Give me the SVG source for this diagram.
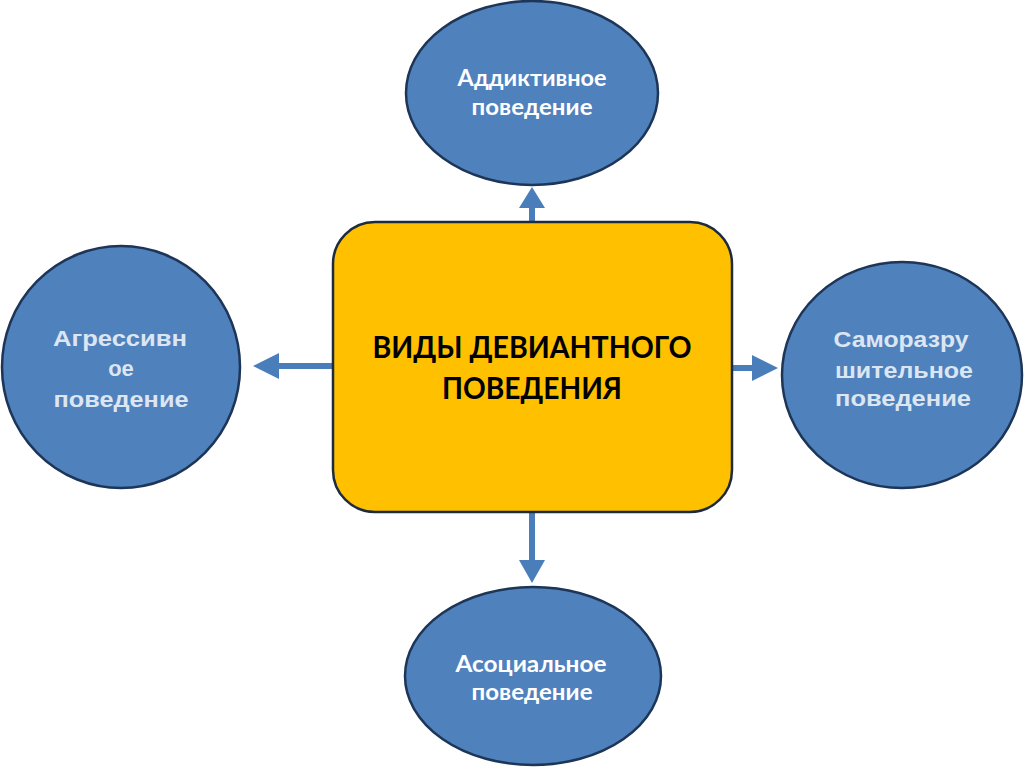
<svg xmlns="http://www.w3.org/2000/svg" width="1024" height="767" viewBox="0 0 1024 767">
<style>
.node{fill:#4f81bd;stroke:#1d3557;stroke-width:2.5}
.center{fill:#ffc000;stroke:#1d2b3f;stroke-width:2.5}
.t{font-family:Lato,"Open Sans","Liberation Sans",sans-serif;font-weight:bold;font-size:23px;fill:#ffffff;text-anchor:middle}
.ta{font-family:"Liberation Sans",Arial,sans-serif;font-weight:bold;font-size:22px;fill:#dce6f2;text-anchor:middle}
.tc{font-family:Lato,"Open Sans","Liberation Sans",sans-serif;font-weight:bold;font-size:31px;fill:#000000;text-anchor:middle}
.arr{fill:#4a7ebb}
</style>
<rect width="1024" height="767" fill="#ffffff"/>
<g id="connectors">
<path class="arr" d="M529,222 L529,208 L519,208 L532,187 L545,208 L535,208 L535,222 Z"/>
<path class="arr" d="M529,512 L529,560 L519,560 L532,583 L545,560 L535,560 L535,512 Z"/>
<path class="arr" d="M333,363 L279,363 L279,353 L253,366 L279,379 L279,369 L333,369 Z"/>
<path class="arr" d="M732,365 L752,365 L752,355 L778,368 L752,381 L752,371 L732,371 Z"/>
</g>
<g id="center">
<rect class="center" x="333" y="222" width="399" height="290" rx="42" ry="42"/>
<text class="tc" x="532" y="358" textLength="319" lengthAdjust="spacingAndGlyphs">ВИДЫ ДЕВИАНТНОГО</text>
<text class="tc" x="532" y="399" textLength="180" lengthAdjust="spacingAndGlyphs">ПОВЕДЕНИЯ</text>
</g>
<g id="addictive">
<ellipse class="node" cx="532" cy="93" rx="126" ry="92"/>
<text class="t" x="532" y="86" textLength="149" lengthAdjust="spacingAndGlyphs">Аддиктивное</text>
<text class="t" x="532" y="115" textLength="121" lengthAdjust="spacingAndGlyphs">поведение</text>
</g>
<g id="aggressive">
<ellipse class="node" cx="121" cy="367" rx="119" ry="121"/>
<text class="ta" x="120" y="346" textLength="134" lengthAdjust="spacingAndGlyphs">Агрессивн</text>
<text class="ta" x="121" y="376">ое</text>
<text class="ta" x="121" y="407" textLength="135" lengthAdjust="spacingAndGlyphs">поведение</text>
</g>
<g id="selfdestructive">
<ellipse class="node" cx="902" cy="375" rx="120" ry="113"/>
<text class="ta" x="901" y="347" textLength="135" lengthAdjust="spacingAndGlyphs">Саморазру</text>
<text class="ta" x="904" y="378" textLength="138" lengthAdjust="spacingAndGlyphs">шительное</text>
<text class="ta" x="903" y="406" textLength="136" lengthAdjust="spacingAndGlyphs">поведение</text>
</g>
<g id="asocial">
<ellipse class="node" cx="533" cy="676" rx="128" ry="89"/>
<text class="t" x="531" y="672" textLength="151" lengthAdjust="spacingAndGlyphs">Асоциальное</text>
<text class="t" x="532" y="700" textLength="121" lengthAdjust="spacingAndGlyphs">поведение</text>
</g>
</svg>
